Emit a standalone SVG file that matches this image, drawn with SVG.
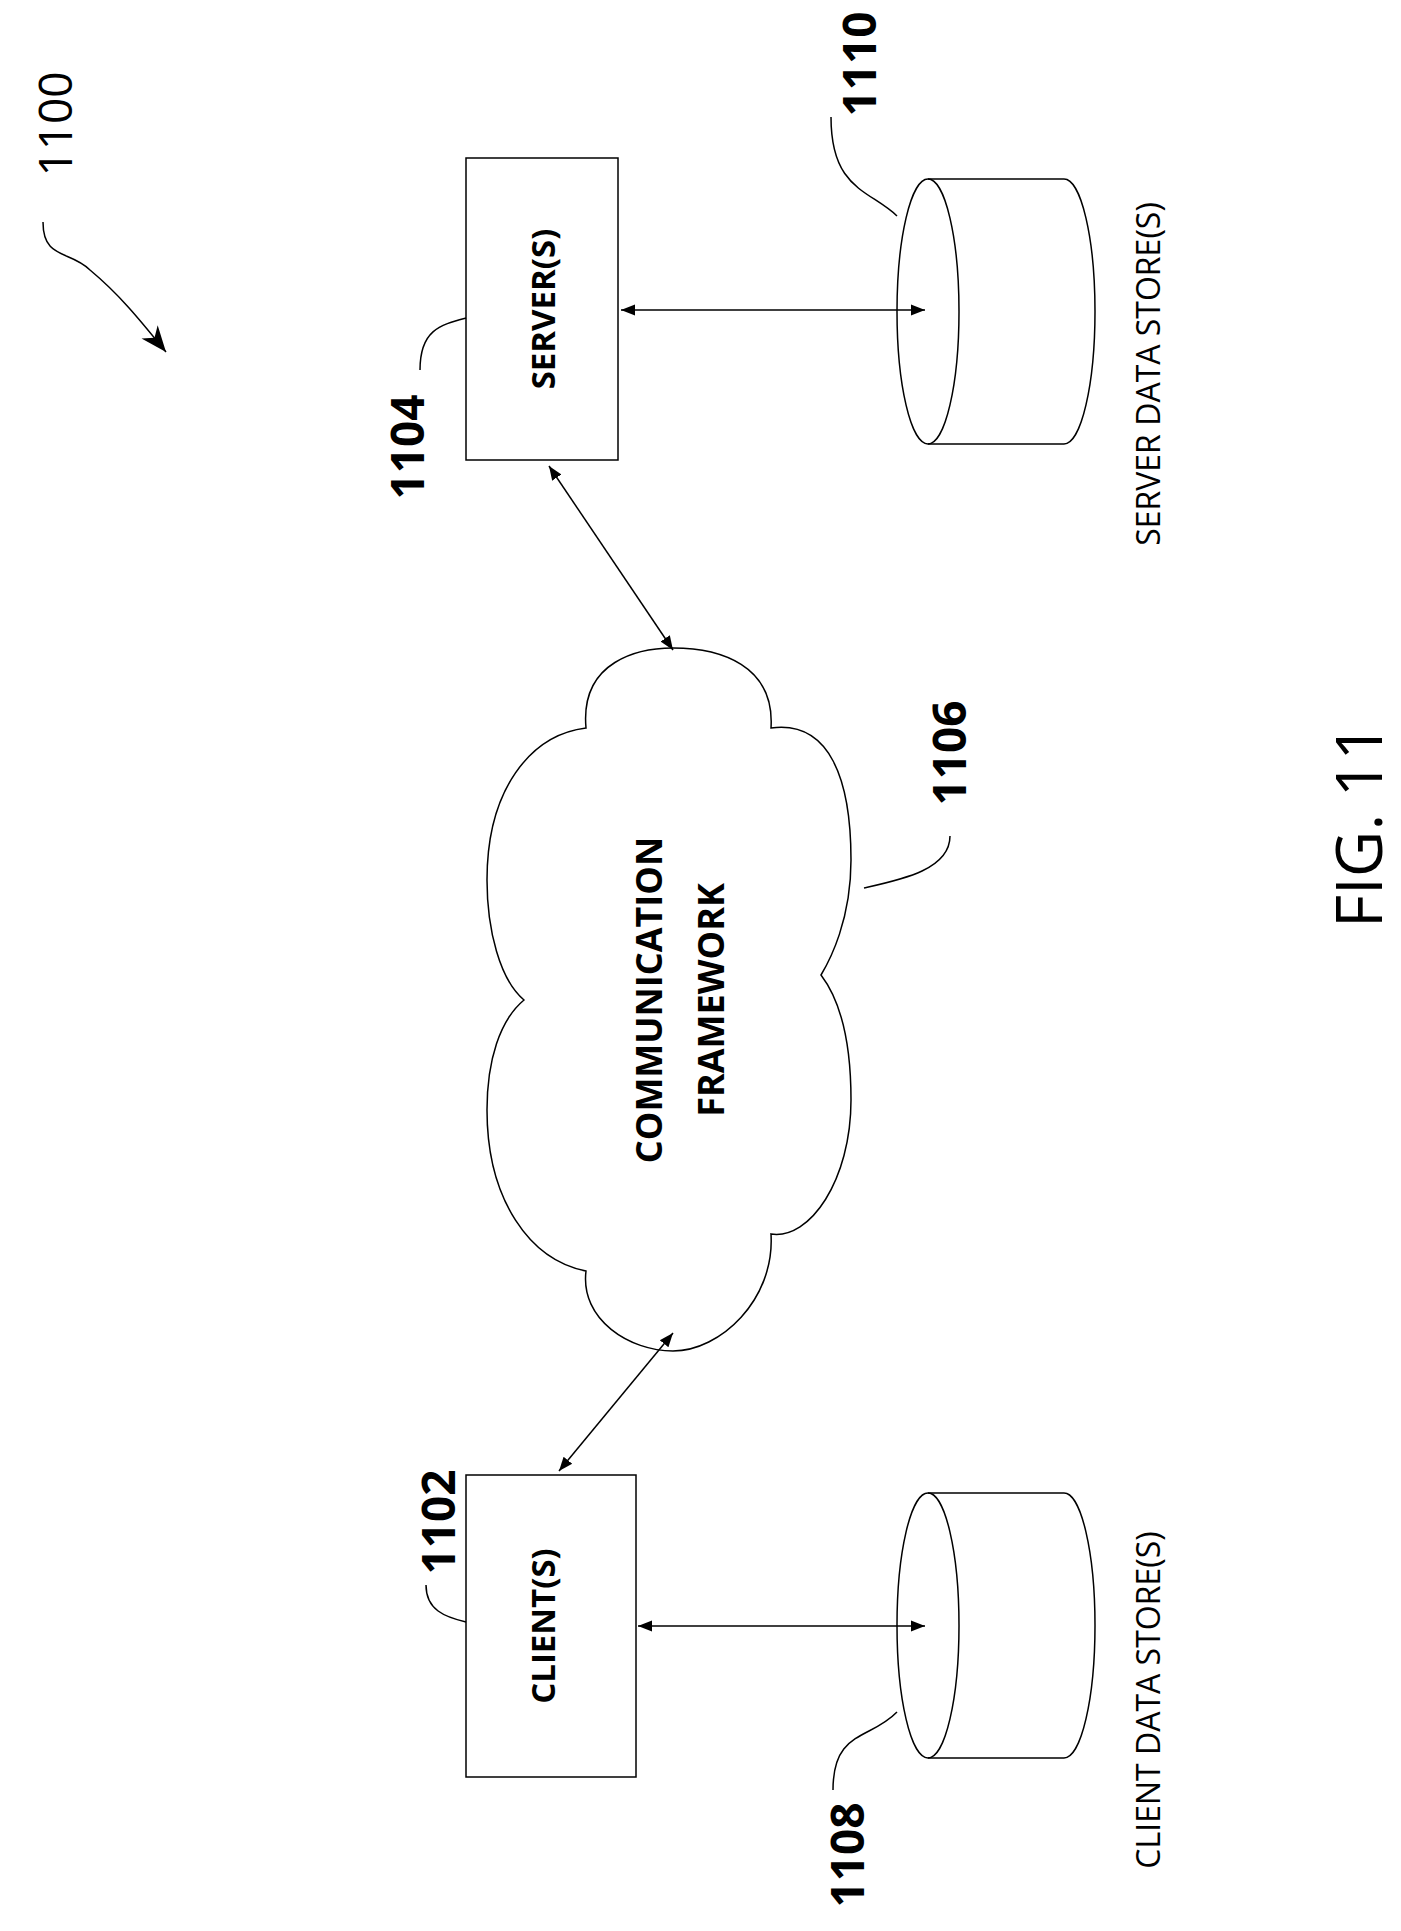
<svg xmlns="http://www.w3.org/2000/svg" width="1401" height="1931" viewBox="0 0 1401 1931">
<style>
.s{fill:none;stroke:#000;stroke-width:1.5}
.b{font-family:"Open Sans","Liberation Sans",sans-serif;font-weight:bold;font-size:33px;text-anchor:middle}
.n{font-family:"Open Sans","Liberation Sans",sans-serif;font-weight:bold;font-size:46px;text-anchor:middle}
.r{font-family:"Open Sans","Liberation Sans",sans-serif;font-size:32px;text-anchor:middle}
</style>
<defs>
<marker id="a" viewBox="0 0 10 10" refX="10" refY="5" markerWidth="14" markerHeight="14" markerUnits="userSpaceOnUse" orient="auto-start-reverse"><path d="M0,1 L10,5 L0,9 Z"/></marker>
<marker id="a2" viewBox="0 0 10 10" refX="10" refY="5" markerWidth="26" markerHeight="26" markerUnits="userSpaceOnUse" orient="auto"><path d="M0,1 L10,5 L0,9 L3,5 Z"/></marker>
</defs>
<rect width="1401" height="1931" fill="#fff"/>
<g id="server"><rect class="s" x="466" y="158" width="152" height="302"/><text class="b" transform="translate(555,309) rotate(-90)">SERVER(S)</text></g>
<g id="client"><rect class="s" x="466" y="1475" width="170" height="302"/><text class="b" transform="translate(555,1626) rotate(-90)">CLIENT(S)</text></g>
<g id="cloud"><path class="s" d="M586,728 C580,660 640,648 673,648 C720,648 775,665 771,728 C830,720 851,780 851,860 C851,920 830,960 821,975 C840,1000 851,1040 851,1100 C851,1180 810,1240 771,1234 C775,1300 720,1351 673,1351 C630,1351 580,1320 586,1271 C530,1260 487,1200 487,1110 C487,1060 500,1020 524,1000 C500,980 487,930 487,880 C487,790 530,735 586,728 Z"/>
<text class="b" style="font-size:36px" transform="translate(662,1000) rotate(-90)">COMMUNICATION</text><text class="b" style="font-size:36px" transform="translate(724,1000) rotate(-90)">FRAMEWORK</text></g>
<g id="sds"><path class="s" d="M928,179 L1064,179 A31,132.5 0 0 1 1064,444 L928,444"/><ellipse class="s" cx="928" cy="311.5" rx="31" ry="132.5"/><text class="r" transform="translate(1160,374) rotate(-90)">SERVER DATA STORE(S)</text></g>
<g id="cds"><path class="s" d="M928,1493 L1064,1493 A31,132.5 0 0 1 1064,1758 L928,1758"/><ellipse class="s" cx="928" cy="1625.5" rx="31" ry="132.5"/><text class="r" transform="translate(1160,1700) rotate(-90)">CLIENT DATA STORE(S)</text></g>
<g id="connectors">
<line class="s" x1="621" y1="310" x2="925" y2="310" marker-start="url(#a)" marker-end="url(#a)"/>
<line class="s" x1="638" y1="1626" x2="925" y2="1626" marker-start="url(#a)" marker-end="url(#a)"/>
<line class="s" x1="549" y1="466" x2="673" y2="650" marker-start="url(#a)" marker-end="url(#a)"/>
<line class="s" x1="559" y1="1471" x2="673" y2="1333" marker-start="url(#a)" marker-end="url(#a)"/>
<path class="s" d="M420,370 C420,330 440,325 466,318"/>
<path class="s" d="M426,1585 C426,1610 445,1617 466,1622"/>
<path class="s" d="M833,1790 C833,1730 870,1740 897,1712"/>
<path class="s" d="M831,117 C831,190 870,190 897,216"/>
<path class="s" d="M950,836 C950,870 900,880 864,888"/>
<path class="s" d="M43,222 C43,260 70,250 90,270 C120,295 140,320 166,352" marker-end="url(#a2)"/>
</g>
<g id="labels">
<text class="n" transform="translate(424,447) rotate(-90)">1104</text>
<text class="n" transform="translate(455,1522) rotate(-90)">1102</text>
<text class="n" transform="translate(864,1855) rotate(-90)">1108</text>
<text class="n" transform="translate(876,64) rotate(-90)">1110</text>
<text class="n" transform="translate(966,753) rotate(-90)">1106</text>
<text class="r" style="font-size:46px" transform="translate(72,124) rotate(-90)">1100</text>
<text class="r" style="font-size:64px" transform="translate(1382,826) rotate(-90)">FIG. 11</text>
</g>
</svg>
